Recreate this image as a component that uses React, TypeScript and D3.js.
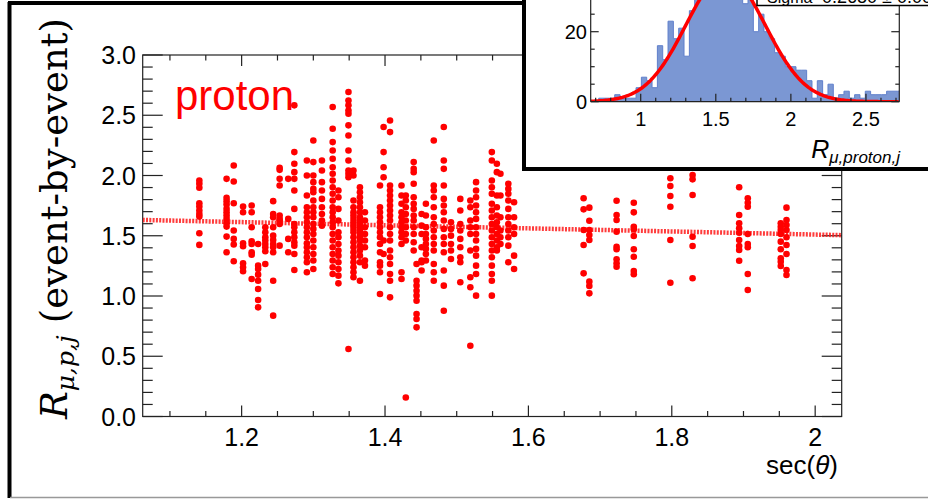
import React from "react";
import * as d3 from "d3";

// ---- main scatter: columns of sec(theta) with their R values ----
const colX = [
  1.141, 1.179, 1.189, 1.202, 1.214, 1.223, 1.233, 1.244, 1.253, 1.265,
  1.2735, 1.291, 1.3, 1.312, 1.327, 1.335, 1.349, 1.356, 1.365, 1.372,
  1.393, 1.398, 1.407, 1.423, 1.429, 1.44, 1.444, 1.451, 1.457, 1.468,
  1.482, 1.492, 1.505, 1.519, 1.527, 1.549, 1.556, 1.561, 1.572, 1.58,
  1.677, 1.685, 1.723, 1.747, 1.798, 1.829, 1.894, 1.906, 1.952, 1.96,
];
const colValues = [
  [1.958, 1.931, 1.898, 1.77, 1.742, 1.709, 1.681, 1.659, 1.521, 1.424],
  [1.972, 1.814, 1.787, 1.759, 1.723, 1.695, 1.668, 1.64, 1.604, 1.576, 1.493, 1.363],
  [2.083, 1.95, 1.77, 1.543, 1.474, 1.427, 1.288],
  [1.742, 1.695, 1.438, 1.413, 1.271, 1.238, 1.205],
  [1.751, 1.695, 1.571, 1.454, 1.432, 1.363, 1.343, 1.141],
  [1.432, 1.252, 1.224, 1.177, 1.127, 1.058, 0.967, 0.906],
  [1.571, 1.529, 1.488, 1.46, 1.432, 1.404, 1.371, 1.266],
  [1.787, 1.681, 1.654, 1.571, 1.501, 1.465, 1.432, 1.404, 1.363, 1.127, 0.837],
  [2.064, 2.047, 1.972, 1.917, 1.668, 1.64, 1.626, 1.598, 1.418],
  [1.972, 1.64, 1.474, 1.363],
  [2.582, 2.194, 2.097, 2.028, 1.972, 1.875, 1.723, 1.598, 1.571, 1.529, 1.488, 1.446, 1.418, 1.349, 1.216],
  [2.125, 2.0, 1.834, 1.737, 1.695, 1.654, 1.612, 1.571, 1.529, 1.488, 1.438, 1.404, 1.363, 1.321, 1.28, 1.197],
  [2.291, 2.111, 2.0, 1.945, 1.889, 1.861, 1.792, 1.737, 1.695, 1.654, 1.598, 1.557, 1.515, 1.46, 1.404, 1.349, 1.294, 1.224],
  [2.125, 2.042, 1.945, 1.875, 1.806, 1.737, 1.681, 1.626, 1.584],
  [2.568, 2.388, 2.277, 2.208, 2.139, 2.069, 2.014, 1.958, 1.903, 1.848, 1.792, 1.737, 1.695, 1.654, 1.612, 1.571, 1.515, 1.46, 1.404, 1.349, 1.294, 1.238, 1.183],
  [1.875, 1.82, 1.723, 1.626, 1.529, 1.488, 1.432, 1.377, 1.335, 1.28, 1.224, 1.169, 1.105],
  [2.693, 2.623, 2.582, 2.54, 2.512, 2.416, 2.332, 2.208, 2.125, 2.042, 2.014, 1.986, 0.56],
  [2.042, 2.0, 1.792, 1.737, 1.695, 1.668, 1.64, 1.612, 1.584, 1.557, 1.529, 1.488, 1.446, 1.404, 1.363, 1.321, 1.28, 1.238, 1.197, 1.155],
  [1.903, 1.861, 1.82, 1.778, 1.737, 1.695, 1.654, 1.626, 1.598, 1.571, 1.543, 1.515, 1.488, 1.46, 1.418, 1.377, 1.335, 1.28, 1.127],
  [1.695, 1.626, 1.571, 1.515, 1.46, 1.404, 1.294, 1.252],
  [1.917, 1.737, 1.695, 1.654, 1.612, 1.571, 1.529, 1.488, 1.432, 1.363, 1.28, 1.252, 1.197, 1.017],
  [2.402, 2.194, 2.069, 1.986, 1.46, 1.349],
  [2.457, 2.36, 1.917, 1.875, 1.834, 1.792, 1.751, 1.709, 1.668, 1.626, 1.571, 1.515, 1.46, 1.377, 1.321, 1.266, 1.183, 1.127, 0.989],
  [1.917, 1.834, 1.765, 1.695, 1.654, 1.612, 1.571, 1.529, 1.488, 1.432, 1.197, 1.141],
  [1.834, 1.792, 1.737, 1.681, 1.626, 1.571, 1.515, 1.46, 0.158],
  [2.111, 2.055, 2.028, 1.931, 1.82, 1.765, 1.723, 1.668, 1.626, 1.571, 1.515, 1.446, 1.377],
  [1.266, 1.127, 1.086, 1.044, 1.003, 0.961, 0.85, 0.809, 0.74],
  [1.681, 1.584, 1.515, 1.404, 1.294, 1.28, 1.211],
  [1.765, 1.668, 1.571, 1.515, 1.474, 1.432, 1.391, 1.349, 1.294],
  [2.291, 1.917, 1.875, 1.82, 1.737, 1.654, 1.598, 1.543, 1.488, 1.432, 1.377, 1.266, 1.197, 1.127],
  [2.402, 2.125, 2.055, 1.917, 1.806, 1.751, 1.695, 1.626, 1.557, 1.488, 1.432, 1.363, 1.211, 1.086, 0.878],
  [1.612, 1.557, 1.501, 1.432, 1.377, 1.307],
  [1.806, 1.709, 1.598, 1.543, 1.474, 1.404, 1.321, 1.28, 1.114],
  [1.792, 1.737, 1.626, 1.571, 1.515, 1.377, 1.155, 1.072, 0.587],
  [1.945, 1.875, 1.82, 1.751, 1.695, 1.64, 1.571, 1.515, 1.46, 1.391, 1.335, 1.252, 1.183, 1.003],
  [2.194, 2.125, 1.958, 1.903, 1.848, 1.765, 1.709, 1.654, 1.598, 1.543, 1.488, 1.432, 1.377, 1.321, 1.252, 1.183, 1.127, 1.003],
  [2.097, 2.028, 1.834, 1.737, 1.668, 1.612, 1.571, 1.515, 1.46, 1.404, 1.377],
  [2.014, 1.834, 1.654, 1.543, 1.488, 1.432],
  [1.931, 1.889, 1.848, 1.792, 1.723, 1.654, 1.598, 1.543, 1.488, 1.418, 1.28],
  [1.778, 1.654, 1.571, 1.515, 1.335, 1.224],
  [1.811, 1.719, 1.548, 1.423, 1.188],
  [1.733, 1.625, 1.548, 1.506, 1.465, 1.119, 1.083, 1.022],
  [1.791, 1.672, 1.631, 1.534, 1.409, 1.388, 1.305, 1.272, 1.243],
  [1.774, 1.694, 1.575, 1.553, 1.498, 1.388, 1.326, 1.207, 1.18],
  [1.977, 1.913, 1.83, 1.741, 1.465, 1.11],
  [2.004, 1.968, 1.838, 1.492, 1.415, 1.147],
  [1.902, 1.672, 1.603, 1.562, 1.525, 1.465, 1.415, 1.382, 1.293],
  [1.811, 1.774, 1.741, 1.515, 1.432, 1.404, 1.183, 1.05],
  [1.603, 1.575, 1.548, 1.515, 1.451, 1.388, 1.313, 1.285, 1.249],
  [1.733, 1.631, 1.589, 1.548, 1.487, 1.423, 1.349, 1.216, 1.174],
];

// fitted trend (dotted line) end points
const fitLineX = [1.062, 2.037];
const fitLineY = [1.631, 1.505];

// axes
const xDomain = [1.062, 2.037];
const yDomain = [0, 3];
const xMajor = [1.2, 1.4, 1.6, 1.8, 2.0];
const xMajorLabels = ["1.2", "1.4", "1.6", "1.8", "2"];
const yMajor = [0, 0.5, 1, 1.5, 2, 2.5, 3];
const yMajorLabels = ["0.0", "0.5", "1.0", "1.5", "2.0", "2.5", "3.0"];

// ---- inset histogram ----
const histStart = 0.6495;
const histBinWidth = 0.0355;
const histCounts = [
  0, 0, 1, 1, 1, 2, 1, 1, 1, 4, 7, 6, 4, 16, 12, 23, 18, 21, 13, 26,
  31, 35, 38, 34, 42, 37, 40, 36, 33, 28, 31, 20, 25, 20, 18, 14, 13, 10, 10, 9,
  9, 6, 1, 6, 2, 5, 1, 2, 3, 1, 2, 1, 3, 2, 2, 2, 3, 3, 3,
];
const fitMean = 1.565;
const fitSigma = 0.265;
const fitAmp = 36;
const insetXDomain = [0.667, 2.722];
const insetXMajor = [1, 1.5, 2, 2.5];
const insetXLabels = ["1", "1.5", "2", "2.5"];
const insetYMajor = [0, 20];
const insetYLabels = ["0", "20"];

const SANS = "'Liberation Sans', Arial, Helvetica, sans-serif";
const SERIF = "'DejaVu Serif', 'Liberation Serif', serif";

export default function App() {
  const W = 928;
  const H = 500;
  const x = d3.scaleLinear().domain(xDomain).range([142.7, 841.7]);
  const y = d3.scaleLinear().domain(yDomain).range([416.5, 55]);
  const [x0, x1] = x.range();
  const [y0, y1] = y.range();

  const xMinor = d3.range(1.1, 2.0001, 0.05).filter((v) => !xMajor.some((m) => Math.abs(m - v) < 1e-6));
  const yMinor = d3.range(0.1, 3, 0.1).filter((v) => !yMajor.some((m) => Math.abs(m - v) < 1e-6));

  const points: { cx: number; cy: number }[] = [];
  colX.forEach((cxv, i) => colValues[i].forEach((v) => points.push({ cx: x(cxv), cy: y(v) })));

  // inset scales
  const ix = d3.scaleLinear().domain(insetXDomain).range([590.7, 899.3]);
  const iy = d3.scaleLinear().domain([0, 20]).range([101.7, 31.7]);
  const [ix0, ix1] = ix.range();
  const iyB = iy(0);

  let histPath = `M${ix(histStart)},${iyB}`;
  histCounts.forEach((c, k) => {
    const a = histStart + k * histBinWidth;
    const b = a + histBinWidth;
    histPath += `L${ix(a)},${iy(c)}L${ix(b)},${iy(c)}`;
  });
  histPath += `L${ix(histStart + histCounts.length * histBinWidth)},${iyB}Z`;

  const gaussXs = d3.range(insetXDomain[0], insetXDomain[1] + 0.001, 0.01);
  const gaussLine = d3
    .line<number>()
    .x((v) => ix(v))
    .y((v) => iy(fitAmp * Math.exp(-((v - fitMean) ** 2) / (2 * fitSigma * fitSigma))))(gaussXs);

  const insetXMinor = d3.range(0.7, 2.7001, 0.1).filter((v) => !insetXMajor.some((m) => Math.abs(m - v) < 1e-6));
  const insetYTicks = d3.range(0, 45, 5);

  return (
    <svg width={W} height={H} style={{ position: "absolute", left: 0, top: 0, background: "#fff" }}>
      <defs>
        <clipPath id="mainClip">
          <rect x={x0} y={y1} width={x1 - x0} height={y0 - y1} />
        </clipPath>
        <clipPath id="insetClip">
          <rect x={ix0} y={-60} width={ix1 - ix0} height={iyB + 60} />
        </clipPath>
      </defs>

      {/* outer canvas frame */}
      <line x1={9.5} y1={2} x2={9.5} y2={498} stroke="#000" strokeWidth={4} />
      <line x1={8} y1={3} x2={928} y2={3} stroke="#000" strokeWidth={4} />
      <line x1={10} y1={497.5} x2={928} y2={497.5} stroke="#999" strokeWidth={1.5} />

      {/* main frame */}
      <rect x={x0} y={y1} width={x1 - x0} height={y0 - y1} fill="none" stroke="#222" strokeWidth={1.2} />

      {/* x ticks (bottom & top) */}
      {xMajor.map((v) => (
        <g key={"xM" + v}>
          <line x1={x(v)} x2={x(v)} y1={y0} y2={y0 - 11} stroke="#222" strokeWidth={1.2} />
          <line x1={x(v)} x2={x(v)} y1={y1} y2={y1 + 11} stroke="#222" strokeWidth={1.2} />
        </g>
      ))}
      {xMinor.map((v) => (
        <g key={"xm" + v}>
          <line x1={x(v)} x2={x(v)} y1={y0} y2={y0 - 5.5} stroke="#222" strokeWidth={1.2} />
          <line x1={x(v)} x2={x(v)} y1={y1} y2={y1 + 5.5} stroke="#222" strokeWidth={1.2} />
        </g>
      ))}
      {/* y ticks (left & right) */}
      {yMajor.map((v) => (
        <g key={"yM" + v}>
          <line x1={x0} x2={x0 + 20} y1={y(v)} y2={y(v)} stroke="#222" strokeWidth={1.2} />
          <line x1={x1} x2={x1 - 20} y1={y(v)} y2={y(v)} stroke="#222" strokeWidth={1.2} />
        </g>
      ))}
      {yMinor.map((v) => (
        <g key={"ym" + v}>
          <line x1={x0} x2={x0 + 10} y1={y(v)} y2={y(v)} stroke="#222" strokeWidth={1.2} />
          <line x1={x1} x2={x1 - 10} y1={y(v)} y2={y(v)} stroke="#222" strokeWidth={1.2} />
        </g>
      ))}

      {/* tick labels */}
      {xMajor.map((v, i) => (
        <text key={"xl" + v} x={x(v)} y={446} textAnchor="middle" fontFamily={SANS} fontSize={25} fill="#000">
          {xMajorLabels[i]}
        </text>
      ))}
      {yMajor.map((v, i) => (
        <text key={"yl" + v} x={136} y={y(v) + 9} textAnchor="end" fontFamily={SANS} fontSize={25} fill="#000">
          {yMajorLabels[i]}
        </text>
      ))}

      {/* axis titles */}
      <text x={838} y={474} textAnchor="end" fontFamily={SANS} fontSize={26} fill="#000">
        sec(<tspan fontStyle="italic">θ</tspan>)
      </text>
      <text transform="translate(67,419) rotate(-90)" fontFamily={SERIF} fontSize={37} fill="#000">
        <tspan fontStyle="italic">R</tspan>
        <tspan fontStyle="italic" fontSize={25} dy={7}>μ,p,j</tspan>
        <tspan dy={-7} dx={12}>(event-by-event)</tspan>
      </text>

      {/* fit line and points */}
      <g clipPath="url(#mainClip)">
        <line
          x1={x(fitLineX[0])}
          y1={y(fitLineY[0])}
          x2={x(fitLineX[1])}
          y2={y(fitLineY[1])}
          stroke="#ff1a1a"
          strokeWidth={4.5}
          strokeDasharray="2 1.3"
          opacity={0.85}
        />
        {points.map((p, i) => (
          <circle key={i} cx={p.cx} cy={p.cy} r={3.3} fill="#ff0000" />
        ))}
      </g>

      {/* label */}
      <text x={175} y={110} fontFamily={SANS} fontSize={42} fill="#ff0000">
        proton
      </text>

      {/* ---- inset ---- */}
      <rect x={524} y={-20} width={420} height={189} fill="#fff" stroke="#000" strokeWidth={4} />
      <g clipPath="url(#insetClip)">
        <path d={histPath} fill="#7b97d3" stroke="#5f7fcb" strokeWidth={1} />
        <path d={gaussLine || ""} fill="none" stroke="#ff0000" strokeWidth={3.5} />
      </g>
      <line x1={ix0} x2={ix0} y1={-5} y2={iyB} stroke="#222" strokeWidth={1.2} />
      <line x1={ix1} x2={ix1} y1={-5} y2={iyB} stroke="#222" strokeWidth={1.2} />
      <line x1={ix0} x2={ix1} y1={iyB} y2={iyB} stroke="#222" strokeWidth={1.2} />
      {insetXMajor.map((v) => (
        <line key={"ixM" + v} x1={ix(v)} x2={ix(v)} y1={iyB} y2={iyB - 8} stroke="#222" strokeWidth={1.2} />
      ))}
      {insetXMinor.map((v) => (
        <line key={"ixm" + v} x1={ix(v)} x2={ix(v)} y1={iyB} y2={iyB - 4} stroke="#222" strokeWidth={1.2} />
      ))}
      {insetYTicks.map((v) => {
        const major = v % 20 === 0;
        const len = major ? 8 : 4;
        return (
          <g key={"iy" + v}>
            <line x1={ix0} x2={ix0 + len} y1={iy(v)} y2={iy(v)} stroke="#222" strokeWidth={1.2} />
            <line x1={ix1} x2={ix1 - len} y1={iy(v)} y2={iy(v)} stroke="#222" strokeWidth={1.2} />
          </g>
        );
      })}
      {insetXMajor.map((v, i) => (
        <text key={"ixl" + v} x={ix(v)} y={126} textAnchor="middle" fontFamily={SANS} fontSize={20} fill="#000">
          {insetXLabels[i]}
        </text>
      ))}
      {insetYMajor.map((v, i) => (
        <text key={"iyl" + v} x={587} y={iy(v) + 7} textAnchor="end" fontFamily={SANS} fontSize={20} fill="#000">
          {insetYLabels[i]}
        </text>
      ))}
      <text x={900} y={158} textAnchor="end" fontFamily={SANS} fontStyle="italic" fontSize={25} fill="#000">
        R<tspan fontSize={17} dy={5}>μ,proton,j</tspan>
      </text>
      {/* stats box, mostly outside the picture */}
      <rect x={757} y={-40} width={200} height={45.5} fill="#fff" stroke="#000" strokeWidth={1.5} />
      <text x={767} y={3} fontFamily={SANS} fontSize={16} fill="#000">
        Sigma
      </text>
      <text x={822} y={3} fontFamily={SANS} fontSize={18} fill="#000">
        0.2680 ± 0.0089
      </text>
    </svg>
  );
}
